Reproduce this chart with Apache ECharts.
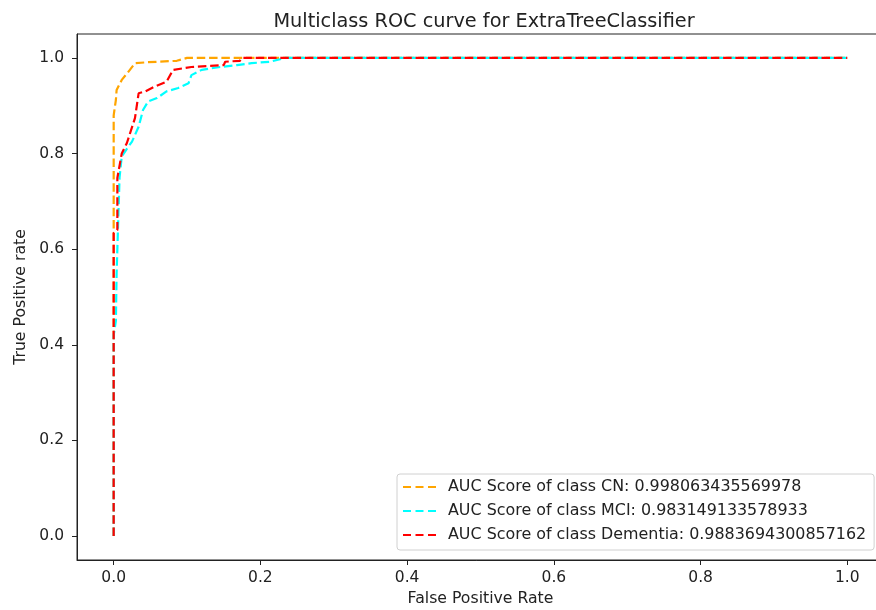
<!DOCTYPE html>
<html>
<head>
<meta charset="utf-8">
<script src="https://cdn.jsdelivr.net/npm/echarts@6/dist/echarts.min.js"></script>
<style>
  html, body { margin: 0; padding: 0; background: #fff; }
  #main { width: 876px; height: 610px; }
</style>
</head>
<body>
<div id="main"></div>
<script>
// 数据：ROC 曲线点
var cnFpr = [0, 0, 0.003, 0.004, 0.011, 0.019, 0.029, 0.047, 0.086, 0.1, 1.0];
var cnTpr = [0, 0.88, 0.912, 0.933, 0.954, 0.969, 0.989, 0.991, 0.994, 1.0, 1.0];

var mciFpr = [0, 0, 0.003, 0.004, 0.006, 0.008, 0.011, 0.018, 0.025, 0.034, 0.040, 0.047, 0.059, 0.072, 0.088, 0.102, 0.106, 0.120, 0.145, 0.168, 0.188, 0.213, 0.234, 1.0];
var mciTpr = [0, 0.42, 0.45, 0.55, 0.65, 0.75, 0.794, 0.81, 0.825, 0.856, 0.891, 0.909, 0.916, 0.930, 0.937, 0.947, 0.964, 0.975, 0.981, 0.985, 0.989, 0.992, 1.0, 1.0];

var demFpr = [0, 0, 0.005, 0.005, 0.011, 0.018, 0.029, 0.034, 0.043, 0.056, 0.072, 0.081, 0.106, 0.150, 0.152, 0.172, 0.175, 1.0];
var demTpr = [0, 0.634, 0.64, 0.749, 0.80, 0.822, 0.874, 0.926, 0.930, 0.940, 0.950, 0.975, 0.981, 0.985, 0.992, 0.994, 1.0, 1.0];

var seriesNames = [
    'AUC Score of class CN: 0.998063435569978',
    'AUC Score of class MCI: 0.983149133578933',
    'AUC Score of class Dementia: 0.9883694300857162'
];
var xTicks = [0, 0.2, 0.4, 0.6, 0.8, 1.0];
var yTicks = [0, 0.2, 0.4, 0.6, 0.8, 1.0];

function zip(xs, ys){
    var out = [];
    for (var i = 0; i < xs.length; i++) {
        out.push([xs[i], ys[i]]);
    }
    return out;
}

var font = 'DejaVu Sans';
var dash = [8.5, 3.8];
// 图例里的虚线小样
var dashIcon = 'path://M0,0h8v2.2h-8z M12.5,0h8v2.2h-8z M25,0h8v2.2h-8z';

function makeSeries(name, color, xs, ys){
    return {
        name: name,
        type: 'line',
        data: zip(xs, ys),
        symbol: 'none',
        animation: false,
        lineStyle: { color: color, width: 2.2, type: dash },
        itemStyle: { color: color }
    };
}

var myChart = echarts.init(document.getElementById('main'));
var option = {
    backgroundColor: '#fff',
    textStyle: { fontFamily: font },
    title: {
        text: 'Multiclass ROC curve for ExtraTreeClassifier',
        left: 479,
        top: 7,
        textAlign: 'center',
        textStyle: { fontFamily: font, fontSize: 19.3, fontWeight: 'normal', color: '#222' }
    },
    grid: {
        left: 77,
        top: 34,
        width: 807,
        height: 526,
        outerBoundsMode: 'none',
        show: true,
        borderColor: '#222',
        borderWidth: 1,
        backgroundColor: 'transparent'
    },
    legend: {
        orient: 'vertical',
        left: 397,
        top: 474,
        padding: [4, 8, 6, 6],
        itemGap: 6,
        itemWidth: 33,
        itemHeight: 2.2,
        borderColor: '#d0d0d0',
        borderWidth: 1,
        borderRadius: 3,
        backgroundColor: 'rgba(255,255,255,0.85)',
        data: seriesNames.map(function (n) { return { name: n, icon: dashIcon }; }),
        textStyle: { fontFamily: font, fontSize: 15.9, lineHeight: 18, color: '#222', padding: [0, 0, 0, 7] }
    },
    xAxis: {
        type: 'value',
        min: -0.05,
        max: 1.05,
        name: 'False Positive Rate',
        nameLocation: 'middle',
        nameGap: 30,
        nameTextStyle: { fontFamily: font, fontSize: 15.7, color: '#222' },
        splitLine: { show: false },
        axisLine: { show: true, onZero: false, lineStyle: { color: '#222' } },
        axisTick: { show: true, length: 5, customValues: xTicks, lineStyle: { color: '#222' } },
        axisLabel: {
            customValues: xTicks,
            margin: 10,
            fontFamily: font,
            fontSize: 15.5,
            color: '#222',
            formatter: function (v) { return v.toFixed(1); }
        }
    },
    yAxis: {
        type: 'value',
        min: -0.05,
        max: 1.05,
        name: 'True Positive rate',
        nameLocation: 'middle',
        nameGap: 46,
        nameRotate: 90,
        nameTextStyle: { fontFamily: font, fontSize: 15.7, color: '#222' },
        splitLine: { show: false },
        axisLine: { show: true, onZero: false, lineStyle: { color: '#222' } },
        axisTick: { show: true, length: 5, customValues: yTicks, lineStyle: { color: '#222' } },
        axisLabel: {
            customValues: yTicks,
            margin: 13,
            fontFamily: font,
            fontSize: 15.5,
            color: '#222',
            formatter: function (v) { return v.toFixed(1); }
        }
    },
    series: [
        makeSeries(seriesNames[0], '#ffa500', cnFpr, cnTpr),
        makeSeries(seriesNames[1], '#00ffff', mciFpr, mciTpr),
        makeSeries(seriesNames[2], '#ff0000', demFpr, demTpr)
    ]
};
// 使用刚指定的配置项和数据显示图表。
myChart.setOption(option);
</script>
</body>
</html>
